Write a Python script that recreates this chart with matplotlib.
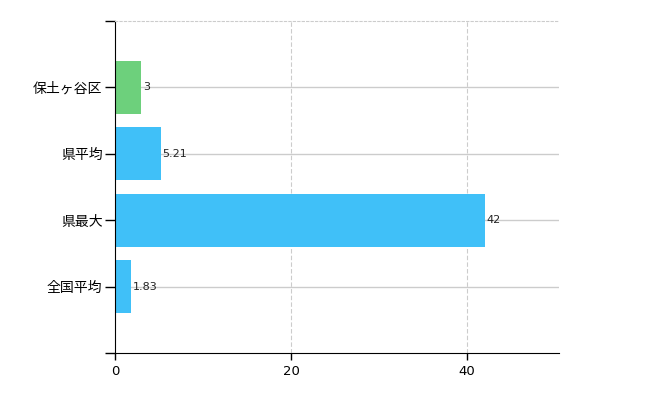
import matplotlib
matplotlib.use("Agg")
import matplotlib.pyplot as plt

plt.rcParams['font.family'] = ['Noto Sans CJK JP', 'DejaVu Sans']

categories = ["保土ヶ谷区", "県平均", "県最大", "全国平均"]
values = [3, 5.21, 42, 1.83]
value_labels = ["3", "5.21", "42", "1.83"]
colors = ["#6dd07c", "#40c0f8", "#40c0f8", "#40c0f8"]
xticks = [0, 20, 40]

fig = plt.figure(figsize=(6.5, 4), dpi=100)
ax = fig.add_axes([115/650, 47/400, 444/650, 332/400])

pos = [1, 2, 3, 4]
ax.barh(pos, values, height=0.8, color=colors, zorder=2)
for p, v, lab in zip(pos, values, value_labels):
    ax.text(v + 0.15, p, lab, va='center', ha='left', fontsize=8, color='#222222',
            family='DejaVu Sans', zorder=3)

ax.set_ylim(5, 0)
ax.set_xlim(0, 50.45)
ax.set_yticks([0, 1, 2, 3, 4, 5])
ax.set_yticklabels([""] + categories + [""], fontsize=10)
ax.set_xticks(xticks)
ax.set_xticklabels([str(t) for t in xticks], fontsize=9.5, family='DejaVu Sans')
ax.tick_params(axis='y', length=7, width=1, pad=2)
ax.tick_params(axis='x', length=5, width=1)

# grid lines
for p in pos:
    ax.axhline(p, color='#cccccc', lw=1, zorder=1)
for t in xticks[1:]:
    ax.axvline(t, color='#cccccc', lw=0.8, ls=(0, (4, 2)), zorder=1)

ax.spines['right'].set_visible(False)
ax.spines['top'].set_color('#cccccc')
ax.spines['top'].set_linestyle((0, (2, 2)))
ax.spines['top'].set_linewidth(0.8)
ax.spines['left'].set_color('black')
ax.spines['bottom'].set_color('black')

fig.savefig("out.png", dpi=100)
